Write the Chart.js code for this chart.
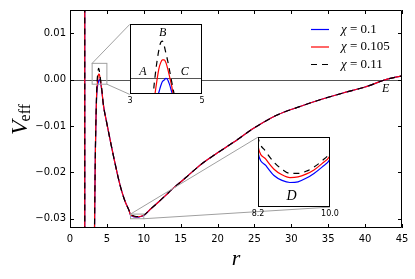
<!DOCTYPE html>
<html>
<head>
<meta charset="utf-8">
<script src="https://cdn.jsdelivr.net/npm/chart.js@4.4.0/dist/chart.umd.min.js"></script>
<style>
  html, body { margin: 0; padding: 0; background: #fff; }
  #wrap { position: relative; width: 415px; height: 279px; }
  #wrap canvas { position: absolute; left: 0; top: 0; }
</style>
</head>
<body>
<div id="wrap"><canvas id="main" width="415" height="279"></canvas></div>
<script>
// ---- data ----
const xTicks = [0, 5, 10, 15, 20, 25, 30, 35, 40, 45];
const yTicks = [-0.03, -0.02, -0.01, 0.00, 0.01];
const chiLabels = ["0.1", "0.105", "0.11"];

const rValues = [3.30, 3.35, 3.40, 3.45, 3.50, 3.55, 3.60, 3.65, 3.70, 3.75, 3.80, 3.85, 3.90, 3.95,
  4.00, 4.05, 4.10, 4.15, 4.20, 4.25, 4.30, 4.40, 4.50,
  5.0, 5.5, 6.0, 6.5, 7.0, 7.5, 8.0,
  8.2, 8.4, 8.6, 8.8, 9.0, 9.2, 9.4, 9.6, 9.8, 10.0,
  11, 12, 13, 14, 15, 16, 17, 18, 20, 22, 25, 28, 31, 34, 37, 40, 43, 45];

// chi = 0.1
const vChi010 = [-0.0360, -0.0280, -0.0206, -0.0146, -0.0102, -0.0068, -0.0040, -0.0028, -0.0019, -0.0012, -0.0009, -0.0005, -0.0002, -0.0001,
  0.0000, -0.0001, -0.0004, -0.0008, -0.0012, -0.0017, -0.0023, -0.0037, -0.0052,
  -0.0095, -0.0135, -0.0173, -0.0209, -0.0240, -0.0264, -0.0282,
  -0.02922, -0.02941, -0.02955, -0.02962, -0.02965, -0.02964, -0.02959, -0.02952, -0.02943, -0.02932,
  -0.0278, -0.0264, -0.0249, -0.0234, -0.0221, -0.0207, -0.0193, -0.0180, -0.0158, -0.0137, -0.0104, -0.0077, -0.0059, -0.0043, -0.0029, -0.0016, 0.0001, 0.0008];

// chi = 0.105
const vChi0105 = [-0.0360, -0.0280, -0.0205, -0.0145, -0.0100, -0.0066, -0.0036, -0.0018, -0.0009, -0.0001, 0.0006, 0.0010, 0.0012, 0.0012,
  0.0010, 0.0006, 0.0001, -0.0004, -0.0010, -0.0016, -0.0022, -0.0036, -0.0052,
  -0.0095, -0.0135, -0.0173, -0.0209, -0.0240, -0.0264, -0.0282,
  -0.02913, -0.02932, -0.02946, -0.02954, -0.02958, -0.02957, -0.02953, -0.02947, -0.02938, -0.02927,
  -0.0278, -0.0264, -0.0249, -0.0234, -0.0221, -0.0207, -0.0193, -0.0180, -0.0158, -0.0137, -0.0104, -0.0077, -0.0059, -0.0043, -0.0029, -0.0016, 0.0001, 0.0008];

// chi = 0.11
const vChi011 = [-0.0360, -0.0280, -0.0205, -0.0145, -0.0100, -0.0065, -0.0034, -0.0010, 0.0002, 0.0011, 0.0018, 0.0023, 0.0024, 0.0021,
  0.0016, 0.0011, 0.0005, -0.0001, -0.0007, -0.0013, -0.0020, -0.0035, -0.0051,
  -0.0095, -0.0135, -0.0173, -0.0209, -0.0240, -0.0264, -0.0282,
  -0.02900, -0.02921, -0.02936, -0.02946, -0.02952, -0.02952, -0.02949, -0.02943, -0.02934, -0.02922,
  -0.0278, -0.0264, -0.0249, -0.0234, -0.0221, -0.0207, -0.0193, -0.0180, -0.0158, -0.0137, -0.0104, -0.0077, -0.0059, -0.0043, -0.0029, -0.0016, 0.0001, 0.0008];

// vertical line at the horizon r = 2
const rAsymptote = [2.0, 2.0];
const vAsymptote = [0.03, -0.05];

// zoom windows of the insets
const inset1Range = { rMin: 3, rMax: 5, vMin: -0.001, vMax: 0.0035 };
const inset2Range = { rMin: 8.2, rMax: 10.0, vMin: -0.0300, vMax: -0.0290 };
const inset1Ticks = ["3", "5"];
const inset2Ticks = ["8.2", "10.0"];

// ---- layout / style ----
const seriesVals = [vChi010, vChi0105, vChi011];
const seriesStyle = [
  { color: "#0000ff", dash: [] },
  { color: "#ff0000", dash: [] },
  { color: "#000000", dash: [6, 5] }
];
// where the insets sit, in main-axes data units
const inset1Place = { rMin: 8.1, rMax: 17.85, vTop: 0.0119, vBottom: -0.0032 };
const inset2Place = { rMin: 25.5, rMax: 35.25, vTop: -0.0124, vBottom: -0.0275 };
const inset1Letters = [{ t: "A", r: 3.36, v: 0.0004, size: 12 }, { t: "B", r: 3.91, v: 0.0029, size: 12 }, { t: "C", r: 4.52, v: 0.0004, size: 12 }];
const inset2Letters = [{ t: "D", r: 9.04, v: -0.02985, size: 14 }];
const mainLetters = [{ t: "E", r: 42.8, v: -0.0021, size: 12 }];

const serif = "'Liberation Serif', 'DejaVu Serif', serif";
const grey = "#a0a0a0";

function buildDatasets(withAsym) {
  const ds = [];
  seriesVals.forEach((vals, i) => {
    const st = seriesStyle[i];
    ds.push({
      data: rValues.map((r, k) => ({ x: r, y: vals[k] })),
      borderColor: st.color, borderDash: st.dash, borderWidth: 1.2,
      pointRadius: 0, fill: false, cubicInterpolationMode: "monotone", order: 3 - i
    });
    if (withAsym) {
      ds.push({
        data: rAsymptote.map((r, k) => ({ x: r, y: vAsymptote[k] })),
        borderColor: st.color, borderDash: st.dash, borderWidth: 1.2,
        pointRadius: 0, fill: false, tension: 0, order: 3 - i
      });
    }
  });
  return ds;
}

function drawLetters(chart, letters) {
  const ctx = chart.ctx;
  ctx.save();
  ctx.fillStyle = "#000";
  ctx.textAlign = "center";
  ctx.textBaseline = "middle";
  letters.forEach(l => {
    ctx.font = "italic " + l.size + "px " + serif;
    ctx.fillText(l.t, chart.scales.x.getPixelForValue(l.r), chart.scales.y.getPixelForValue(l.v));
  });
  ctx.restore();
}

function zeroLine(chart) {
  const { ctx, chartArea: a } = chart;
  const y0 = chart.scales.y.getPixelForValue(0);
  if (y0 < a.top || y0 > a.bottom) return;
  ctx.save();
  ctx.strokeStyle = "#555";
  ctx.lineWidth = 1;
  ctx.beginPath();
  ctx.moveTo(a.left, Math.round(y0) + 0.5);
  ctx.lineTo(a.right, Math.round(y0) + 0.5);
  ctx.stroke();
  ctx.restore();
}

const mainDecor = {
  id: "mainDecor",
  beforeDatasetsDraw(chart) { zeroLine(chart); },
  afterDatasetsDraw(chart) {
    const { ctx, chartArea: a, scales: { x, y } } = chart;
    ctx.save();
    // zoom boxes and connectors
    ctx.strokeStyle = grey;
    ctx.lineWidth = 1;
    [[inset1Range, inset1Place, "bl"], [inset2Range, inset2Place, "br"]].forEach(([rg, pl, corner]) => {
      const bx1 = x.getPixelForValue(rg.rMin), bx2 = x.getPixelForValue(rg.rMax);
      const by1 = y.getPixelForValue(rg.vMax), by2 = y.getPixelForValue(rg.vMin);
      ctx.strokeRect(bx1, by1, bx2 - bx1, by2 - by1);
      const ix1 = x.getPixelForValue(pl.rMin), ix2 = x.getPixelForValue(pl.rMax);
      const iy1 = y.getPixelForValue(pl.vTop), iy2 = y.getPixelForValue(pl.vBottom);
      ctx.beginPath();
      ctx.moveTo(bx1, by1); ctx.lineTo(ix1, iy1);
      ctx.moveTo(bx2, by2); ctx.lineTo(corner === "bl" ? ix1 : ix2, iy2);
      ctx.stroke();
    });
    // frame and inward ticks
    ctx.strokeStyle = "#000";
    ctx.beginPath();
    ctx.rect(a.left + 0.5, a.top + 0.5, a.right - a.left - 1, a.bottom - a.top - 1);
    xTicks.forEach(v => {
      const px = Math.round(x.getPixelForValue(v)) + 0.5;
      ctx.moveTo(px, a.bottom); ctx.lineTo(px, a.bottom - 4);
      ctx.moveTo(px, a.top); ctx.lineTo(px, a.top + 4);
    });
    yTicks.forEach(v => {
      const py = Math.round(y.getPixelForValue(v)) + 0.5;
      ctx.moveTo(a.left, py); ctx.lineTo(a.left + 4, py);
      ctx.moveTo(a.right, py); ctx.lineTo(a.right - 4, py);
    });
    ctx.stroke();
    ctx.restore();
    drawLetters(chart, mainLetters);
  },
  afterDraw(chart) {
    const { ctx, chartArea: a } = chart;
    ctx.save();
    // legend
    seriesStyle.forEach((st, i) => {
      const yy = a.top + 19.5 + i * 17.5;
      ctx.strokeStyle = st.color;
      ctx.lineWidth = 1.2;
      ctx.setLineDash(st.dash);
      ctx.beginPath();
      ctx.moveTo(a.right - 91, yy); ctx.lineTo(a.right - 73, yy);
      ctx.stroke();
      ctx.setLineDash([]);
      ctx.fillStyle = "#000";
      ctx.textBaseline = "middle";
      ctx.textAlign = "left";
      ctx.font = "italic 13px " + serif;
      const tx = a.right - 61;
      ctx.fillText("\u03c7", tx, yy);
      const w = ctx.measureText("\u03c7").width;
      ctx.font = "13px " + serif;
      ctx.fillText(" = " + chiLabels[i], tx + w, yy);
    });
    // axis titles
    ctx.fillStyle = "#000";
    ctx.textAlign = "center";
    ctx.textBaseline = "alphabetic";
    ctx.font = "italic 22px " + serif;
    ctx.fillText("r", (a.left + a.right) / 2, 265);
    ctx.translate(27, (a.top + a.bottom) / 2);
    ctx.rotate(-Math.PI / 2);
    ctx.font = "italic 24px " + serif;
    const wV = ctx.measureText("V").width;
    ctx.font = "16px " + serif;
    const wE = ctx.measureText("eff").width;
    const start = -(wV + wE) / 2;
    ctx.textAlign = "left";
    ctx.font = "italic 24px " + serif;
    ctx.fillText("V", start, 0);
    ctx.font = "16px " + serif;
    ctx.fillText("eff", start + wV - 1, 3);
    ctx.restore();
  }
};

const fmtY = v => (v < 0 ? "\u2212" : "") + Math.abs(v).toFixed(2);

const mainChart = new Chart(document.getElementById("main"), {
  type: "line",
  data: { datasets: buildDatasets(true) },
  options: {
    responsive: false,
    animation: false,
    events: [],
    layout: { padding: { left: 0, right: 13, top: 7, bottom: 0 } },
    plugins: { legend: { display: false }, tooltip: { enabled: false } },
    scales: {
      x: {
        type: "linear", min: 0, max: 45,
        afterBuildTicks: s => { s.ticks = xTicks.map(v => ({ value: v })); },
        afterFit: s => { s.height = 51; },
        grid: { display: false, drawTicks: false },
        border: { display: false },
        ticks: { color: "#000", font: { family: "DejaVu Sans", size: 10 }, padding: 5, maxRotation: 0, autoSkip: false, callback: v => String(v) }
      },
      y: {
        type: "linear", min: -0.032, max: 0.015,
        afterBuildTicks: s => { s.ticks = yTicks.map(v => ({ value: v })); },
        afterFit: s => { s.width = 70; },
        grid: { display: false, drawTicks: false },
        border: { display: false },
        ticks: { color: "#000", font: { family: "DejaVu Sans", size: 10 }, padding: 4, autoSkip: false, callback: v => fmtY(v) }
      }
    }
  },
  plugins: [mainDecor]
});

// ---- insets ----
const wrap = document.getElementById("wrap");

function makeInset(place, range, tickText, letters) {
  const xs = mainChart.scales.x, ys = mainChart.scales.y;
  const m = { l: 14, r: 14, t: 3, b: 16 };
  const bx1 = Math.round(xs.getPixelForValue(place.rMin));
  const bx2 = Math.round(xs.getPixelForValue(place.rMax));
  const by1 = Math.round(ys.getPixelForValue(place.vTop));
  const by2 = Math.round(ys.getPixelForValue(place.vBottom));
  const cv = document.createElement("canvas");
  const w = bx2 - bx1 + m.l + m.r, h = by2 - by1 + m.t + m.b;
  cv.width = w; cv.height = h;
  cv.style.width = w + "px"; cv.style.height = h + "px";
  cv.style.left = (bx1 - m.l) + "px";
  cv.style.top = (by1 - m.t) + "px";
  wrap.appendChild(cv);

  const decor = {
    id: "insetDecor",
    beforeDatasetsDraw(chart) {
      const { ctx, chartArea: a } = chart;
      ctx.save();
      ctx.fillStyle = "#fff";
      ctx.fillRect(a.left, a.top, a.right - a.left, a.bottom - a.top);
      ctx.restore();
      zeroLine(chart);
    },
    afterDatasetsDraw(chart) {
      const { ctx, chartArea: a } = chart;
      ctx.save();
      ctx.strokeStyle = "#000";
      ctx.lineWidth = 1;
      ctx.strokeRect(a.left + 0.5, a.top + 0.5, a.right - a.left - 1, a.bottom - a.top - 1);
      ctx.fillStyle = "#000";
      ctx.font = "8px 'DejaVu Sans'";
      ctx.textAlign = "center";
      ctx.textBaseline = "middle";
      ctx.fillText(tickText[0], a.left, a.bottom + 7);
      ctx.fillText(tickText[1], a.right, a.bottom + 7);
      ctx.restore();
      drawLetters(chart, letters);
    }
  };

  return new Chart(cv, {
    type: "line",
    data: { datasets: buildDatasets(false) },
    options: {
      responsive: false,
      animation: false,
      events: [],
      layout: { padding: { left: m.l, right: m.r, top: m.t, bottom: m.b } },
      plugins: { legend: { display: false }, tooltip: { enabled: false } },
      scales: {
        x: { type: "linear", display: false, min: range.rMin, max: range.rMax },
        y: { type: "linear", display: false, min: range.vMin, max: range.vMax }
      }
    },
    plugins: [decor]
  });
}

makeInset(inset1Place, inset1Range, inset1Ticks, inset1Letters);
makeInset(inset2Place, inset2Range, inset2Ticks, inset2Letters);
</script>
</body>
</html>
